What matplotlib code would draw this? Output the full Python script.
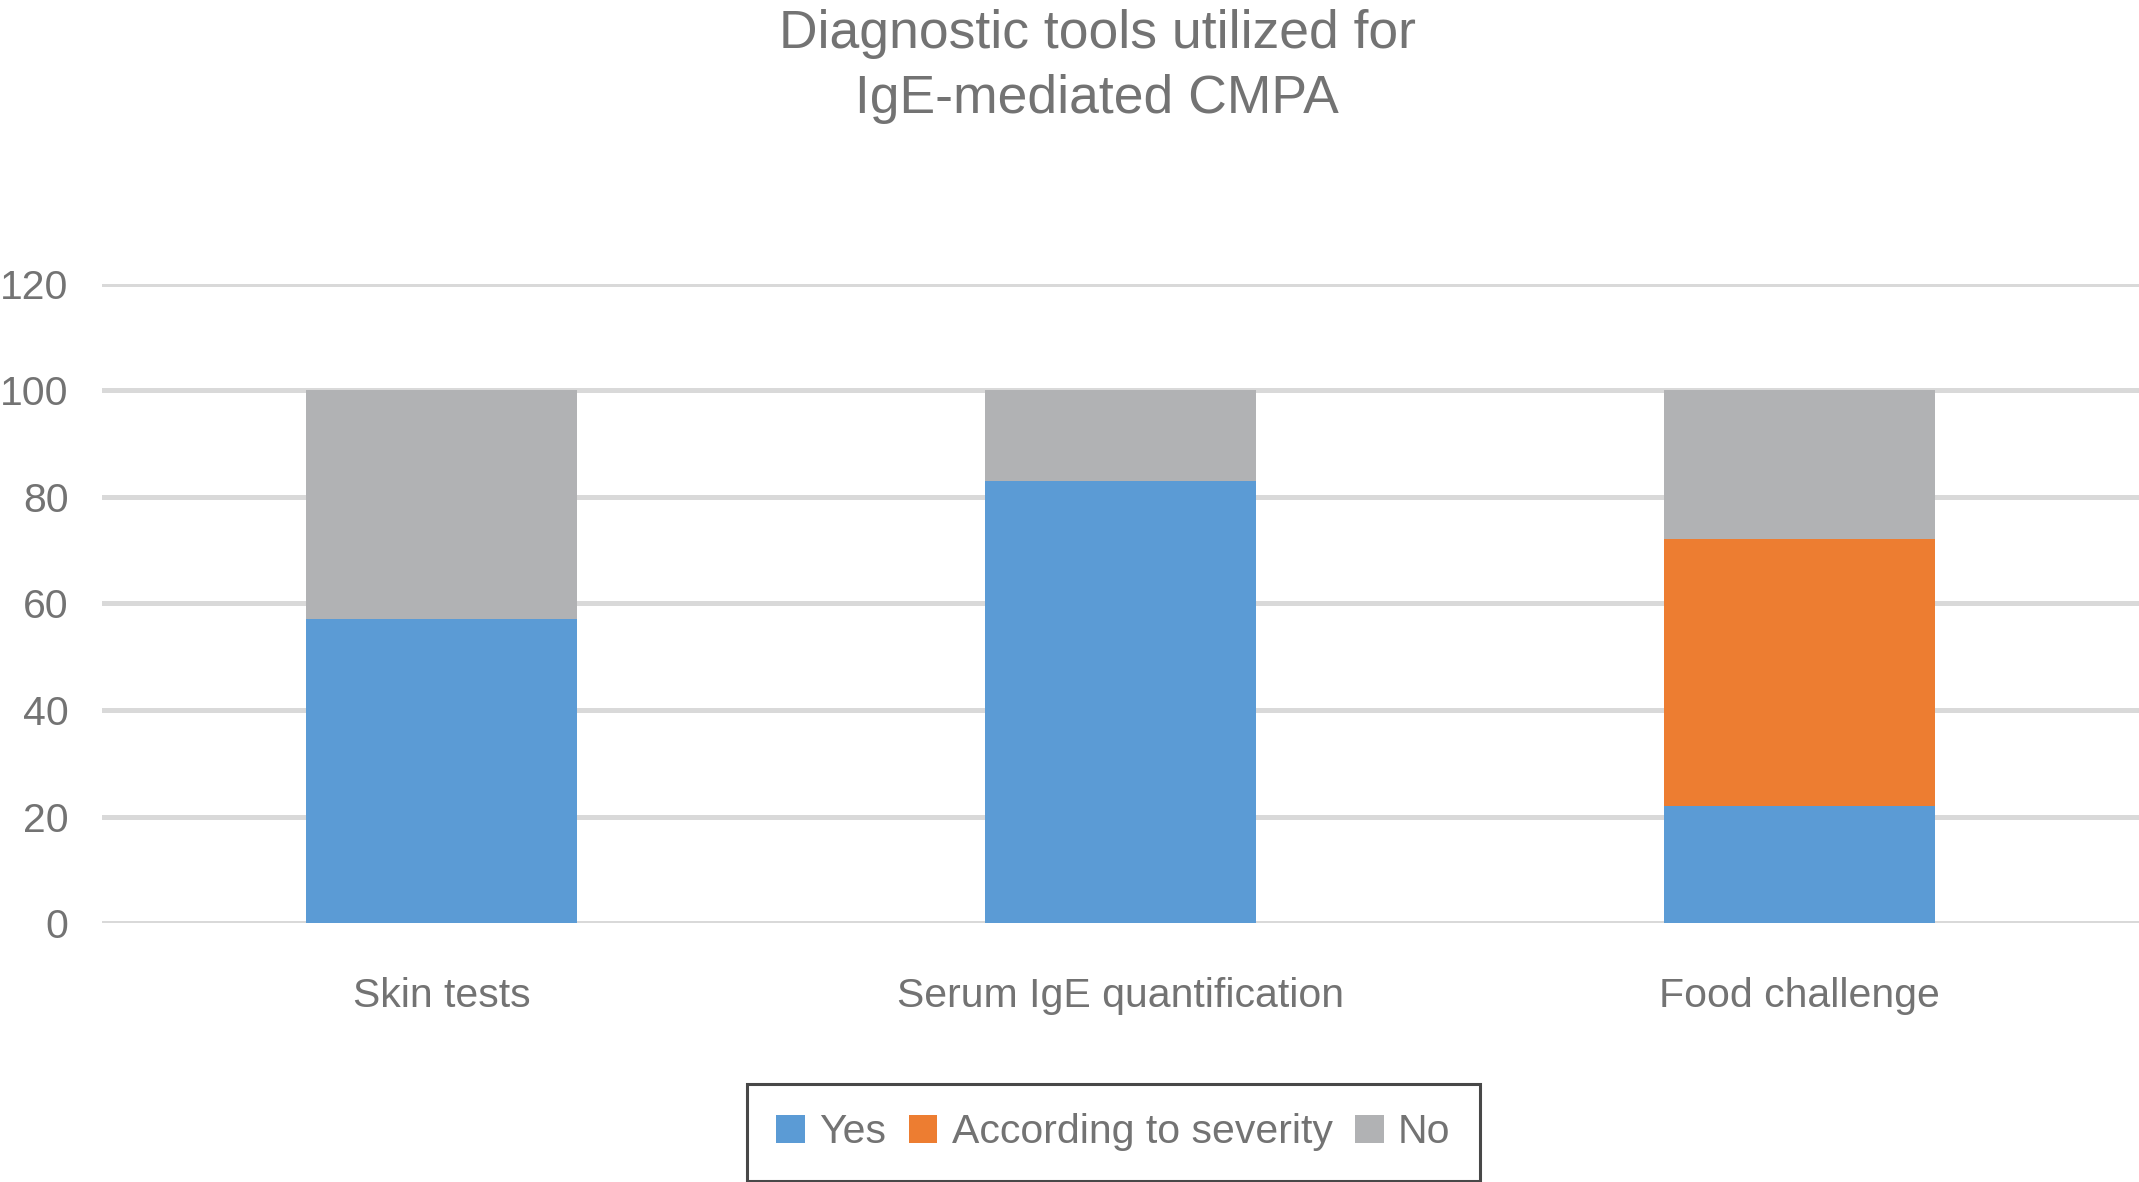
import matplotlib
matplotlib.use('Agg')
import matplotlib.pyplot as plt
import numpy as np

categories = ['Skin tests', 'Serum IgE quantification', 'Food challenge']
yes = [57, 83, 22]
severity = [0, 0, 50]
no = [43, 17, 28]
series_names = ['Yes', 'According to severity', 'No']
y_ticks = [0, 20, 40, 60, 80, 100, 120]

text_color = '#737373'
grid_color = '#d9d9d9'
colors = ['#5b9bd5', '#ed7d31', '#b1b2b4']

plt.rcParams['font.family'] = ['Liberation Sans', 'DejaVu Sans']

fig = plt.figure(figsize=(21.39, 11.82), dpi=100)
ax = fig.add_axes([0.0477, 0.219, 0.9523, 0.541])

x = np.arange(len(categories))
yes = np.array(yes)
severity = np.array(severity)
no = np.array(no)

bars_yes = ax.bar(x, yes, width=0.4, color=colors[0], zorder=3, label=series_names[0])
bars_sev = ax.bar(x, severity, width=0.4, bottom=yes, color=colors[1], zorder=3,
                  label=series_names[1])
bars_no = ax.bar(x, no, width=0.4, bottom=yes + severity, color=colors[2], zorder=3,
                 label=series_names[2])

ax.set_xlim(-0.5, 2.5)
ax.set_ylim(0, 120)
ax.set_yticks(y_ticks)
ax.set_xticks(x)
ax.set_xticklabels(categories)

for y in y_ticks:
    ax.axhline(y, color=grid_color, linewidth=3.6, zorder=1)

for s in ax.spines.values():
    s.set_visible(False)
ax.tick_params(axis='both', length=0, labelsize=29.5, labelcolor=text_color)
ax.tick_params(axis='y', pad=24)
ax.tick_params(axis='x', pad=39)

fig.text(0.513, 0.992, 'Diagnostic tools utilized for\nIgE-mediated CMPA',
         ha='center', va='top', fontsize=38.5, color=text_color, linespacing=1.37)

leg = fig.legend(handles=[bars_yes, bars_sev, bars_no], labels=series_names,
                 loc='lower center', bbox_to_anchor=(0.5205, 0.001), ncol=3,
                 fontsize=29.5, frameon=True, fancybox=False,
                 handlelength=0.7, handleheight=0.7, handletextpad=0.35,
                 columnspacing=0.55, borderpad=0.72, borderaxespad=0)
leg.get_frame().set_edgecolor('#1a1a1a')
leg.get_frame().set_linewidth(2.2)
for t in leg.get_texts():
    t.set_color(text_color)

fig.savefig('out.png', dpi=100)
